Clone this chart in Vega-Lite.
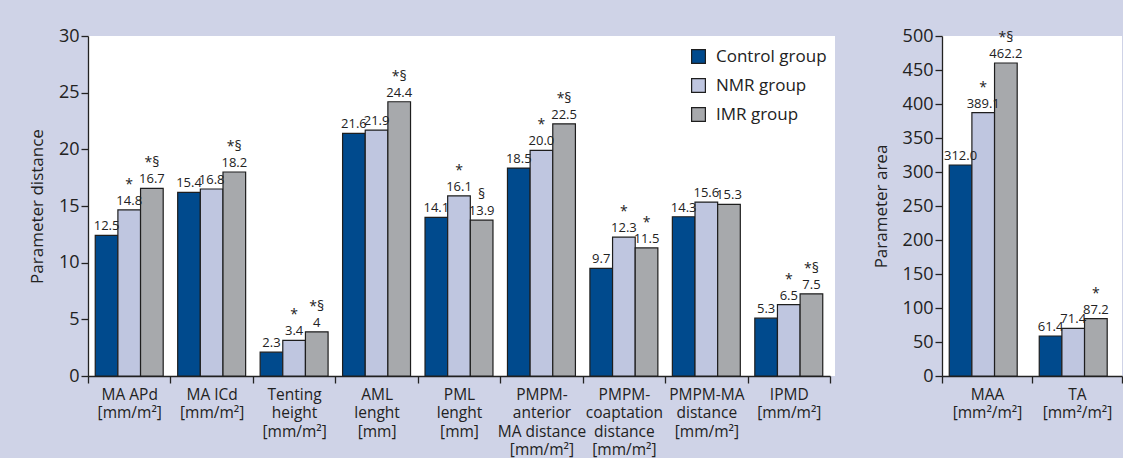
{
  "$schema": "https://vega.github.io/schema/vega-lite/v6.json",
  "background": "#cfd3e7",
  "padding": {"left": 28, "top": 27, "right": 0, "bottom": 0},
  "config": {
    "view": {"fill": "white", "stroke": null},
    "font": "Open Sans",
    "axis": {"labelFont": "Open Sans", "titleFont": "Open Sans", "labelColor": "#222", "titleColor": "#222", "domainColor": "#222", "tickColor": "#222", "grid": false, "titleFontWeight": "normal", "domainWidth": 1.3, "tickWidth": 1.3}
  },
  "datasets": {
    "dist": [
      {"cat": "MA APd|[mm/m²]", "group": "Control group", "value": 12.4, "label": "12.5", "sig": ""},
      {"cat": "MA APd|[mm/m²]", "group": "NMR group", "value": 14.65, "label": "14.8", "sig": "*"},
      {"cat": "MA APd|[mm/m²]", "group": "IMR group", "value": 16.56, "label": "16.7", "sig": "*§"},
      {"cat": "MA ICd|[mm/m²]", "group": "Control group", "value": 16.2, "label": "15.4", "sig": ""},
      {"cat": "MA ICd|[mm/m²]", "group": "NMR group", "value": 16.5, "label": "16.8", "sig": ""},
      {"cat": "MA ICd|[mm/m²]", "group": "IMR group", "value": 18.0, "label": "18.2", "sig": "*§"},
      {"cat": "Tenting|height|[mm/m²]", "group": "Control group", "value": 2.1, "label": "2.3", "sig": ""},
      {"cat": "Tenting|height|[mm/m²]", "group": "NMR group", "value": 3.15, "label": "3.4", "sig": "*"},
      {"cat": "Tenting|height|[mm/m²]", "group": "IMR group", "value": 3.9, "label": "4", "sig": "*§"},
      {"cat": "AML|lenght|[mm]", "group": "Control group", "value": 21.4, "label": "21.6", "sig": ""},
      {"cat": "AML|lenght|[mm]", "group": "NMR group", "value": 21.7, "label": "21.9", "sig": ""},
      {"cat": "AML|lenght|[mm]", "group": "IMR group", "value": 24.2, "label": "24.4", "sig": "*§"},
      {"cat": "PML|lenght|[mm]", "group": "Control group", "value": 14.0, "label": "14.1", "sig": ""},
      {"cat": "PML|lenght|[mm]", "group": "NMR group", "value": 15.9, "label": "16.1", "sig": "*"},
      {"cat": "PML|lenght|[mm]", "group": "IMR group", "value": 13.75, "label": "13.9", "sig": "§"},
      {"cat": "PMPM-|anterior|MA distance|[mm/m²]", "group": "Control group", "value": 18.35, "label": "18.5", "sig": ""},
      {"cat": "PMPM-|anterior|MA distance|[mm/m²]", "group": "NMR group", "value": 19.9, "label": "20.0", "sig": "*"},
      {"cat": "PMPM-|anterior|MA distance|[mm/m²]", "group": "IMR group", "value": 22.25, "label": "22.5", "sig": "*§"},
      {"cat": "PMPM-|coaptation|distance|[mm/m²]", "group": "Control group", "value": 9.5, "label": "9.7", "sig": ""},
      {"cat": "PMPM-|coaptation|distance|[mm/m²]", "group": "NMR group", "value": 12.25, "label": "12.3", "sig": "*"},
      {"cat": "PMPM-|coaptation|distance|[mm/m²]", "group": "IMR group", "value": 11.3, "label": "11.5", "sig": "*"},
      {"cat": "PMPM-MA|distance|[mm/m²]", "group": "Control group", "value": 14.05, "label": "14.3", "sig": ""},
      {"cat": "PMPM-MA|distance|[mm/m²]", "group": "NMR group", "value": 15.35, "label": "15.6", "sig": ""},
      {"cat": "PMPM-MA|distance|[mm/m²]", "group": "IMR group", "value": 15.15, "label": "15.3", "sig": ""},
      {"cat": "IPMD|[mm/m²]", "group": "Control group", "value": 5.1, "label": "5.3", "sig": ""},
      {"cat": "IPMD|[mm/m²]", "group": "NMR group", "value": 6.3, "label": "6.5", "sig": "*"},
      {"cat": "IPMD|[mm/m²]", "group": "IMR group", "value": 7.25, "label": "7.5", "sig": "*§"}
    ],
    "area": [
      {"cat": "MAA|[mm²/m²]", "group": "Control group", "value": 310.3, "label": "312.0", "sig": ""},
      {"cat": "MAA|[mm²/m²]", "group": "NMR group", "value": 387.2, "label": "389.1", "sig": "*"},
      {"cat": "MAA|[mm²/m²]", "group": "IMR group", "value": 460.3, "label": "462.2", "sig": "*§"},
      {"cat": "TA|[mm²/m²]", "group": "Control group", "value": 58.8, "label": "61.4", "sig": ""},
      {"cat": "TA|[mm²/m²]", "group": "NMR group", "value": 70.1, "label": "71.4", "sig": ""},
      {"cat": "TA|[mm²/m²]", "group": "IMR group", "value": 84.3, "label": "87.2", "sig": "*"}
    ]
  },
  "resolve": {"scale": {"color": "independent"}, "legend": {"color": "independent"}},
  "spacing": 37,
  "hconcat": [
    {
      "width": 747,
      "height": 340,
      "data": {"name": "dist"},
      "encoding": {
        "x": {"field": "cat", "type": "nominal", "sort": null, "title": null,
          "scale": {"range": [0, 742], "paddingInner": 0, "paddingOuter": 0},
          "axis": {"labelAngle": 0, "tickBand": "extent", "tickSize": 7, "labelFontSize": 15.5, "labelPadding": 4, "labelLineHeight": 18.5, "labelExpr": "split(datum.label, '|')", "labelBaseline": "top"}},
        "xOffset": {"field": "group", "type": "nominal", "sort": ["Control group", "NMR group", "IMR group"], "scale": {"paddingInner": 0, "paddingOuter": 0.32}},
        "y": {"field": "value", "type": "quantitative", "scale": {"domain": [0, 30], "nice": false},
          "axis": {"title": "Parameter distance", "values": [0, 5, 10, 15, 20, 25, 30], "tickSize": 7, "labelFontSize": 18, "labelPadding": 2, "titleFontSize": 17, "titlePadding": 12}}
      },
      "layer": [
        {
          "mark": {"type": "bar", "stroke": "#1e1e1e", "strokeWidth": 1.2},
          "encoding": {
            "color": {"field": "group", "type": "nominal", "sort": ["Control group", "NMR group", "IMR group"],
              "scale": {"domain": ["Control group", "NMR group", "IMR group"], "range": ["#004a8d", "#bfc6e0", "#a7a9ac"]},
              "legend": {"title": null, "orient": "none", "legendX": 602, "legendY": 12, "symbolType": "square", "symbolSize": 190, "symbolStrokeColor": "#1e1e1e", "symbolStrokeWidth": 1.2, "symbolOpacity": 1, "labelFont": "Open Sans", "labelFontSize": 17, "labelColor": "#222", "rowPadding": 10, "labelOffset": 9}}
          }
        },
        {
          "mark": {"type": "text", "baseline": "bottom", "dy": -2, "fontSize": 13, "color": "#222", "font": "Open Sans"},
          "encoding": {"text": {"field": "label"}}
        },
        {
          "mark": {"type": "text", "baseline": "bottom", "dy": -18, "fontSize": 14, "color": "#222", "font": "Open Sans"},
          "encoding": {"text": {"field": "sig"}}
        }
      ]
    },
    {
      "width": 180,
      "height": 340,
      "data": {"name": "area"},
      "encoding": {
        "x": {"field": "cat", "type": "nominal", "sort": null, "title": null,
          "scale": {"paddingInner": 0, "paddingOuter": 0},
          "axis": {"labelAngle": 0, "tickBand": "extent", "tickSize": 7, "labelFontSize": 15.5, "labelPadding": 4, "labelLineHeight": 18.5, "labelExpr": "split(datum.label, '|')", "labelBaseline": "top"}},
        "xOffset": {"field": "group", "type": "nominal", "sort": ["Control group", "NMR group", "IMR group"], "scale": {"paddingInner": 0, "paddingOuter": 0.48}},
        "y": {"field": "value", "type": "quantitative", "scale": {"domain": [0, 500], "nice": false},
          "axis": {"title": "Parameter area", "values": [0, 50, 100, 150, 200, 250, 300, 350, 400, 450, 500], "tickSize": 7, "labelFontSize": 18, "labelPadding": 2, "titleFontSize": 17, "titlePadding": 12}}
      },
      "layer": [
        {
          "mark": {"type": "bar", "stroke": "#1e1e1e", "strokeWidth": 1.2},
          "encoding": {
            "color": {"field": "group", "type": "nominal", "sort": ["Control group", "NMR group", "IMR group"],
              "scale": {"domain": ["Control group", "NMR group", "IMR group"], "range": ["#004a8d", "#bfc6e0", "#a7a9ac"]},
              "legend": null}
          }
        },
        {
          "mark": {"type": "text", "baseline": "bottom", "dy": -2, "fontSize": 13, "color": "#222", "font": "Open Sans"},
          "encoding": {"text": {"field": "label"}}
        },
        {
          "mark": {"type": "text", "baseline": "bottom", "dy": -18, "fontSize": 14, "color": "#222", "font": "Open Sans"},
          "encoding": {"text": {"field": "sig"}}
        }
      ]
    }
  ]
}
